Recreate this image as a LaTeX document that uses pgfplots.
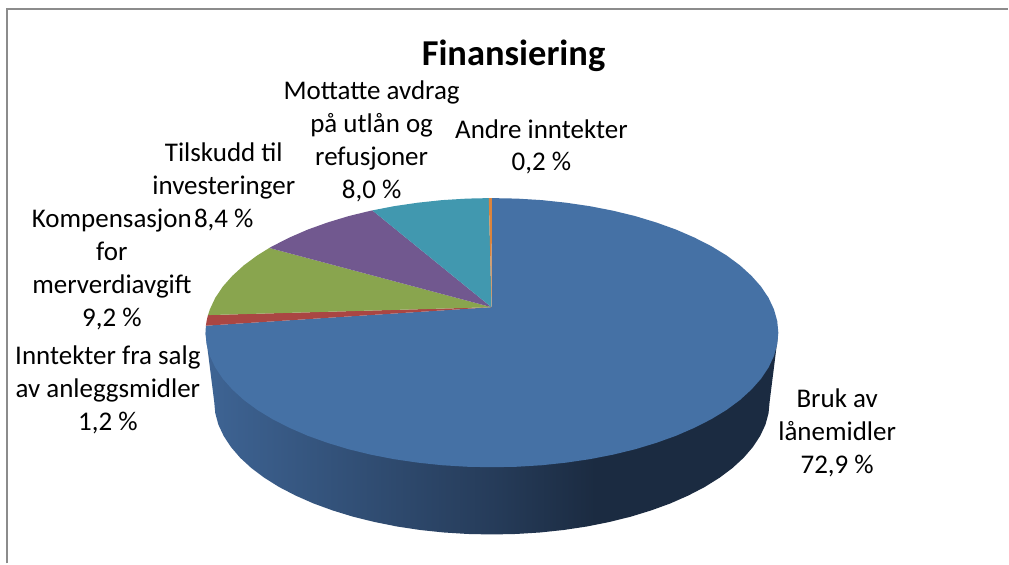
\documentclass[border=0pt]{standalone}
\usepackage{fontspec}
\setmainfont{Carlito}
\usepackage{pgfplots}
\pgfplotsset{compat=1.18}

\definecolor{pieblue}{HTML}{4571A5}
\definecolor{piered}{HTML}{AA4643}
\definecolor{piegreen}{HTML}{89A54E}
\definecolor{piepurple}{HTML}{71588F}
\definecolor{pieteal}{HTML}{4198AF}
\definecolor{pieorange}{HTML}{DB843D}
\definecolor{framegray}{HTML}{8C8C8C}
\definecolor{sideleft}{HTML}{3E6494}
\definecolor{sidemid}{HTML}{263C5A}
\definecolor{sideright}{HTML}{1B2B41}

% side of the pie, dark towards the right
\pgfdeclarehorizontalshading{pieside}{100bp}{
  color(0bp)=(sideleft);
  color(25bp)=(sideleft);
  color(50bp)=(sidemid);
  color(59bp)=(sideright);
  color(75bp)=(sideright);
  color(100bp)=(sideright)}

\begin{document}
\begin{tikzpicture}
\begin{axis}[
    scale only axis,
    width=1009pt,
    height=564pt,
    xmin=0, xmax=1009,
    ymin=0, ymax=564,
    y dir=reverse,
    hide axis,
    clip=false,
    every axis plot/.append style={draw=none, no markers},
]
% page and chart frame
\addplot[fill=white] coordinates {(0,0) (1009,0) (1009,564) (0,564)} --cycle;
\addplot[draw=framegray, line width=2pt, fill=none] coordinates {(7,564) (7,9) (1009,9)};

% side wall
\addplot[shading=pieside] coordinates {
    (205.7,333) (214.4,402) (215.5,413.6) (218.6,425.1) (223.9,436.4) (231.2,447.5)
    (240.4,458.2) (251.6,468.5) (264.7,478.3) (279.4,487.5) (295.8,496) (313.7,503.9)
    (332.9,510.9) (353.4,517.2) (374.9,522.5) (397.3,527) (420.5,530.5) (444.1,533)
    (468.2,534.5) (492.4,535) (516.6,534.5) (540.7,533) (564.3,530.5) (587.5,527)
    (609.9,522.5) (631.4,517.2) (651.9,510.9) (671.1,503.9) (689,496) (705.4,487.5)
    (720.1,478.3) (733.2,468.5) (744.4,458.2) (753.6,447.5) (760.9,436.4) (766.2,425.1)
    (769.3,413.6) (770.4,402) (779.1,333)} --cycle;

% Bruk av lanemidler
\addplot[fill=pieblue] coordinates {
    (492,307.5) (492.4,198.3) (517.4,198.8) (542.2,200.3) (566.6,202.9) (590.5,206.4)
    (613.6,210.9) (635.8,216.3) (656.9,222.7) (676.7,229.8) (695.1,237.8) (712,246.4)
    (727.3,255.7) (740.7,265.6) (752.2,276.1) (761.8,286.9) (769.3,298.1) (774.7,309.6)
    (778,321.3) (779.1,333) (778,344.7) (774.7,356.4) (769.3,367.9) (761.8,379.1)
    (752.2,389.9) (740.7,400.4) (727.3,410.3) (712,419.6) (695.1,428.2) (676.7,436.2)
    (656.9,443.3) (635.8,449.7) (613.6,455.1) (590.5,459.6) (566.6,463.1) (542.2,465.7)
    (517.4,467.2) (492.4,467.7) (467.4,467.2) (442.6,465.7) (418.2,463.1) (394.3,459.6)
    (371.2,455.1) (349,449.7) (327.9,443.3) (308.1,436.2) (289.7,428.2) (272.8,419.6)
    (257.5,410.3) (244.1,400.4) (232.6,389.9) (223,379.1) (215.5,367.9) (210.1,356.4)
    (206.8,344.7) (205.7,333) (206.1,326)} --cycle;
% Inntekter fra salg
\addplot[fill=piered] coordinates {(492,307.5) (206.1,326) (206.8,321.3) (208.2,315.4)} --cycle;
% Kompensasjon
\addplot[fill=piegreen] coordinates {
    (492,307.5) (208.2,315.4) (210.1,309.6) (215.5,298.1) (223,286.9) (232.6,276.1)
    (244.1,265.6) (257.5,255.7) (269.6,248.2)} --cycle;
% Tilskudd
\addplot[fill=piepurple] coordinates {
    (492,307.5) (269.6,248.2) (272.8,246.4) (289.7,237.8) (308.1,229.8) (327.9,222.7)
    (349,216.3) (371.2,210.9) (372.7,210.6)} --cycle;
% Mottatte avdrag
\addplot[fill=pieteal] coordinates {
    (492,307.5) (372.7,210.6) (394.3,206.4) (418.2,202.9) (442.6,200.3) (467.4,198.8)
    (489.3,198.3)} --cycle;
% Andre inntekter
\addplot[fill=pieorange] coordinates {(492,307.5) (489.3,198.3) (492.4,198.3)} --cycle;

% title and labels
\node[font=\fontsize{36.5}{42}\selectfont\bfseries] at (axis cs:514,56) {Finansiering};
\tikzset{lab/.style={align=center, inner sep=0pt, font=\fontsize{27}{33}\selectfont}}
\node[lab] at (axis cs:372,141.5) {Mottatte avdrag\\på utlån og\\refusjoner\\8,0 \%};
\node[lab] at (axis cs:542,147) {Andre inntekter\\0,2 \%};
\node[lab] at (axis cs:224,187) {Tilskudd til\\investeringer\\8,4 \%};
\node[lab] at (axis cs:112,270) {Kompensasjon\\for\\merverdiavgift\\9,2 \%};
\node[lab] at (axis cs:108,390) {Inntekter fra salg\\av anleggsmidler\\1,2 \%};
\node[lab] at (axis cs:838,433) {Bruk av\\lånemidler\\72,9 \%};
\end{axis}
\end{tikzpicture}
\end{document}
